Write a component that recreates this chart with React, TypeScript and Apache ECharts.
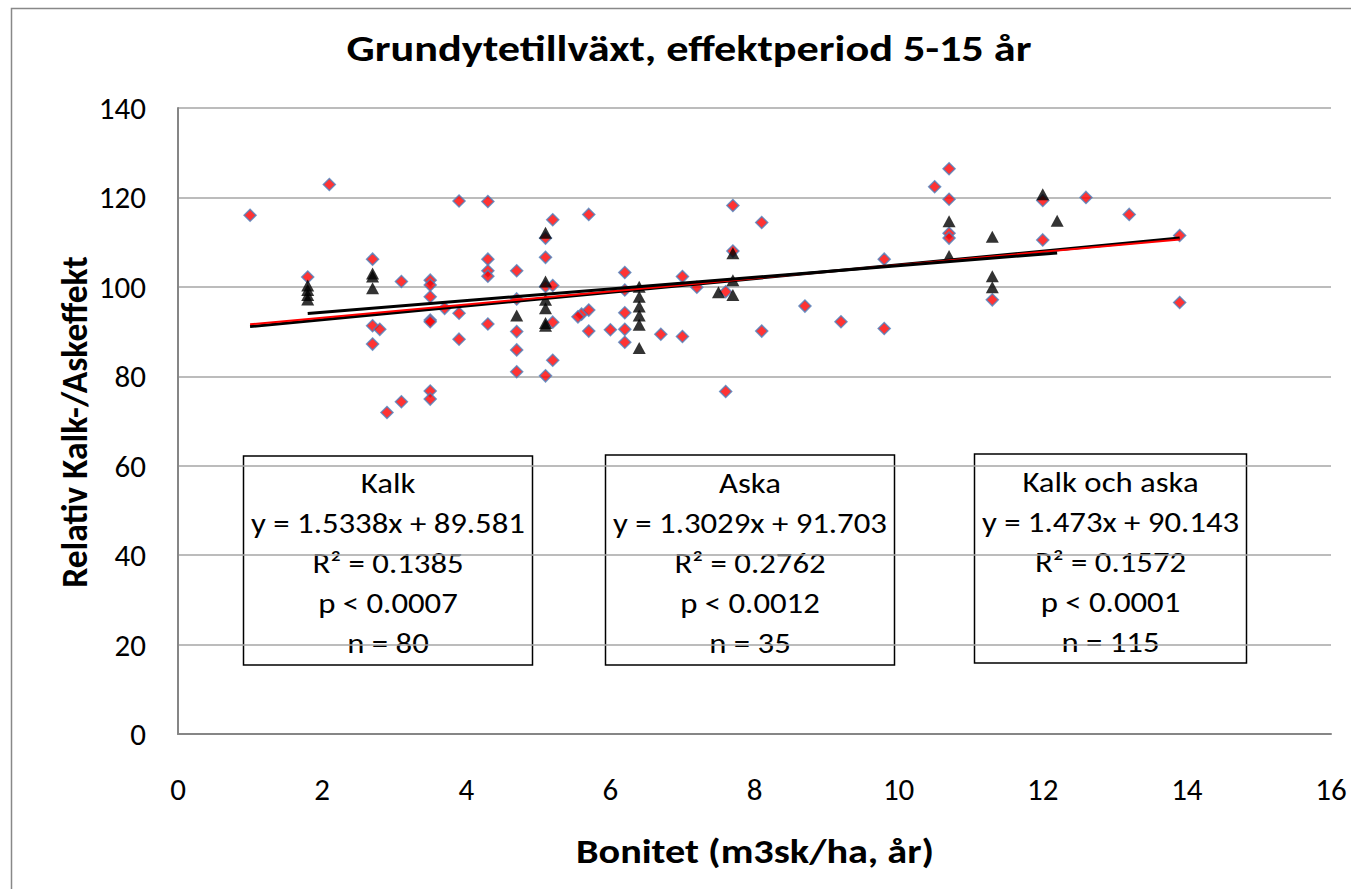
import React, { useEffect, useRef } from "react";
import * as echarts from "echarts";

// Kalk (liming) observations: [bonitet, relative effect]
const kalkPoints: [number, number][] = [
  [1.0, 116.0], [2.1, 122.9], [1.8, 102.2], [2.7, 106.2], [2.7, 91.3], [2.8, 90.5], [2.7, 87.2],
  [3.1, 101.2], [3.5, 101.5], [3.5, 100.4], [3.5, 97.8], [3.5, 92.6], [3.5, 92.2], [3.7, 95.2],
  [3.9, 119.2], [3.9, 94.1], [3.9, 88.3], [4.3, 119.1], [4.3, 106.2], [4.3, 103.6], [4.3, 102.4],
  [4.3, 91.7], [4.7, 103.6], [4.7, 97.3], [4.7, 90.0], [4.7, 85.9], [4.7, 81.0], [3.5, 76.7],
  [3.5, 74.9], [3.1, 74.3], [2.9, 71.9], [5.1, 80.1], [5.1, 110.9], [5.1, 106.6], [5.1, 100.1],
  [5.2, 115.0], [5.2, 100.3], [5.2, 92.1], [5.2, 83.6], [5.6, 93.9], [5.55, 93.3], [5.7, 94.8],
  [5.7, 116.2], [5.7, 90.1], [6.0, 90.4], [6.2, 103.2], [6.2, 99.3], [6.2, 94.2], [6.2, 90.5],
  [6.2, 87.6], [6.7, 89.4], [7.0, 102.3], [7.0, 88.9], [7.2, 99.9], [7.6, 98.9], [7.6, 76.6],
  [7.7, 118.2], [7.7, 108.0], [8.1, 114.4], [8.1, 90.1], [8.7, 95.7], [9.2, 92.2], [9.8, 106.2],
  [9.8, 90.7], [10.5, 122.4], [10.7, 126.4], [10.7, 119.6], [10.7, 112.0], [10.7, 110.9],
  [11.3, 97.1], [12.0, 119.3], [12.0, 110.5], [12.6, 120.0], [13.2, 116.2], [13.9, 111.5], [13.9, 96.5],
];

// Aska (ash) observations
const askaPoints: [number, number][] = [
  [1.8, 100.3], [1.8, 99.3], [1.8, 98.2], [1.8, 97.2], [2.7, 103.0], [2.7, 102.3], [2.7, 99.7],
  [4.7, 93.6], [5.1, 112.1], [5.1, 101.2], [5.1, 97.1], [5.1, 95.2], [5.1, 91.9], [5.1, 91.3],
  [6.4, 100.0], [6.4, 97.8], [6.4, 95.6], [6.4, 93.6], [6.4, 91.5], [6.4, 86.3], [7.5, 98.8],
  [7.7, 107.5], [7.7, 101.5], [7.7, 98.2], [10.7, 114.7], [10.7, 106.9], [11.3, 111.2],
  [11.3, 102.4], [11.3, 99.9], [12.0, 120.7], [12.2, 114.8],
];

// Trend lines: Kalk, Aska, Kalk och aska
const trendSlopes = [1.5338, 1.3029, 1.473];
const trendIntercepts = [89.581, 91.703, 90.143];
const trendXStart = [1.0, 1.8, 1.0];
const trendXEnd = [13.9, 12.2, 13.9];

const xTicks = [0, 16, 2];
const yTicks = [0, 140, 20];

const titleText = "Grundytetillväxt, effektperiod 5-15 år";
const xTitle = "Bonitet (m3sk/ha, år)";
const yTitle = "Relativ Kalk-/Askeffekt";

const boxKalk = ["Kalk", "y = 1.5338x + 89.581", "R² = 0.1385", "p < 0.0007", "n = 80"];
const boxAska = ["Aska", "y = 1.3029x + 91.703", "R² = 0.2762", "p < 0.0012", "n = 35"];
const boxBoth = ["Kalk och aska", "y = 1.473x + 90.143", "R² = 0.1572", "p < 0.0001", "n = 115"];

const FONT = "Carlito, Calibri, Lato, sans-serif";

function trendLine(i: number): [number, number][] {
  return [
    [trendXStart[i], trendSlopes[i] * trendXStart[i] + trendIntercepts[i]],
    [trendXEnd[i], trendSlopes[i] * trendXEnd[i] + trendIntercepts[i]],
  ];
}

function textBox(lines: string[], x: number, y: number, w: number, h: number, firstY: number, step: number) {
  const children: any[] = [
    {
      type: "rect",
      shape: { x, y, width: w, height: h },
      style: { fill: "#fff", stroke: "#000", lineWidth: 1.5 },
    },
  ];
  lines.forEach((t, i) => {
    children.push({
      type: "text",
      x: x + w / 2,
      y: firstY + i * step,
      scaleX: 1.17,
      style: {
        x: 0,
        y: 0,
        text: t,
        fill: "#000",
        font: `28px ${FONT}`,
        textAlign: "center",
        textVerticalAlign: "middle",
      },
    });
  });
  return { type: "group", children, z: 100 };
}

export default function App() {
  const ref = useRef<HTMLDivElement>(null);
  useEffect(() => {
    if (!ref.current) return;
    const chart = echarts.init(ref.current, undefined, { renderer: "svg" });
    chart.setOption({
      animation: false,
      backgroundColor: "#fff",
      grid: { left: 178, top: 108, right: 20, bottom: 155, containLabel: false },
      xAxis: {
        type: "value",
        min: xTicks[0],
        max: xTicks[1],
        interval: xTicks[2],
        axisLine: { show: true, lineStyle: { color: "#868686", width: 2 } },
        axisTick: { show: false },
        splitLine: { show: false },
        axisLabel: { color: "#000", fontSize: 31, fontFamily: FONT, margin: 39 },
      },
      yAxis: {
        type: "value",
        min: yTicks[0],
        max: yTicks[1],
        interval: yTicks[2],
        axisLine: { show: true, lineStyle: { color: "#868686", width: 2 } },
        axisTick: { show: false },
        splitLine: { show: true, lineStyle: { color: "#A6A6A6", width: 1.5 } },
        axisLabel: { color: "#000", fontSize: 31, fontFamily: FONT, margin: 32 },
      },
      series: [
        {
          name: "Kalk",
          type: "scatter",
          data: kalkPoints,
          symbol: "diamond",
          symbolSize: 12,
          itemStyle: { color: "#FF0000", borderColor: "#4F81BD", borderWidth: 1.5 },
          z: 2,
        },
        {
          name: "Aska",
          type: "scatter",
          data: askaPoints,
          symbol: "triangle",
          symbolSize: [13, 12],
          itemStyle: { color: "#000" },
          z: 3,
        },
        {
          name: "Trend Kalk",
          type: "line",
          data: trendLine(0),
          symbol: "none",
          lineStyle: { color: "#000", width: 3 },
          z: 4,
        },
        {
          name: "Trend Kalk och aska",
          type: "line",
          data: trendLine(2),
          symbol: "none",
          lineStyle: { color: "#FF0000", width: 2 },
          z: 5,
        },
        {
          name: "Trend Aska",
          type: "line",
          data: trendLine(1),
          symbol: "none",
          lineStyle: { color: "#000", width: 3 },
          z: 6,
        },
      ],
      graphic: [
        {
          type: "rect",
          shape: { x: 11.5, y: 8.5, width: 1400, height: 1000 },
          style: { fill: "none", stroke: "#888", lineWidth: 1.5 },
          z: 0,
          silent: true,
        },
        {
          type: "text",
          x: 689,
          y: 49,
          scaleX: 1.23,
          style: {
            x: 0,
            y: 0,
            text: titleText,
            fill: "#000",
            font: `bold 36px ${FONT}`,
            textAlign: "center",
            textVerticalAlign: "middle",
          },
        },
        {
          type: "text",
          x: 755,
          y: 851,
          scaleX: 1.15,
          style: {
            x: 0,
            y: 0,
            text: xTitle,
            fill: "#000",
            font: `bold 35px ${FONT}`,
            textAlign: "center",
            textVerticalAlign: "middle",
          },
        },
        {
          type: "text",
          x: 75,
          y: 422,
          rotation: Math.PI / 2,
          style: {
            x: 0,
            y: 0,
            text: yTitle,
            fill: "#000",
            font: `bold 35.5px ${FONT}`,
            textAlign: "center",
            textVerticalAlign: "middle",
          },
        },
        textBox(boxKalk, 243.5, 456, 289, 209, 483, 40),
        textBox(boxAska, 605.5, 455, 289, 210, 483, 40),
        textBox(boxBoth, 974.5, 454, 272, 209, 482, 40),
      ],
    });
    return () => chart.dispose();
  }, []);
  return (
    <div
      ref={ref}
      style={{ position: "fixed", left: 0, top: 0, width: 1351, height: 889 }}
    />
  );
}
